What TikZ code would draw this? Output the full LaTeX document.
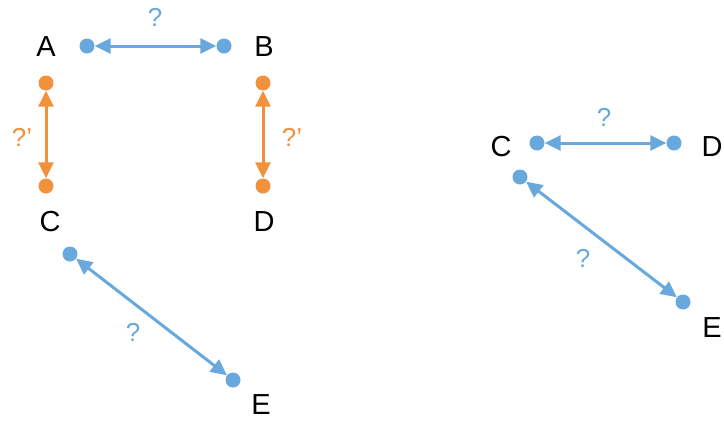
\documentclass[tikz,border=0pt]{standalone}
\usepackage{fontspec}
\setmainfont{Liberation Sans}
\usetikzlibrary{arrows.meta}
\definecolor{cblue}{RGB}{104,168,220}
\definecolor{corange}{RGB}{242,145,60}
\begin{document}
\begin{tikzpicture}[x=1pt,y=-1pt,
  dotb/.style={circle,fill=cblue,inner sep=0pt,minimum size=15pt},
  doto/.style={circle,fill=corange,inner sep=0pt,minimum size=15pt},
  lbl/.style={font=\fontsize{29}{31}\selectfont,inner sep=0pt},
  qb/.style={font=\fontsize{26}{28}\selectfont,text=cblue,inner sep=0pt},
  qo/.style={font=\fontsize{26}{28}\selectfont,text=corange,inner sep=0pt},
  tip/.style={Triangle[length=16pt,width=15pt]},
  conb/.style={draw=cblue,line width=3pt,{Triangle[length=16pt,width=15pt]}-{Triangle[length=16pt,width=15pt]}},
  cono/.style={draw=corange,line width=3pt,{Triangle[length=16pt,width=15pt]}-{Triangle[length=16pt,width=15pt]}}]
\useasboundingbox (0,0) rectangle (724,421);
% left group
\node[lbl] (lA) at (46,47) {A};
\node[lbl] (lB) at (264,47) {B};
\node[lbl] (lC) at (50,222) {C};
\node[lbl] (lD) at (264,222) {D};
\node[lbl] (lE) at (261,405) {E};
\node[dotb] (a) at (87,46) {};
\node[dotb] (b) at (224,46) {};
\node[doto] (a2) at (46,83) {};
\node[doto] (c2) at (46,186) {};
\node[doto] (b2) at (263,83) {};
\node[doto] (d2) at (263,186) {};
\node[dotb] (c) at (70,254) {};
\node[dotb] (e) at (233,380) {};
\draw[conb] (a) -- (b);
\draw[cono] (a2) -- (c2);
\draw[cono] (b2) -- (d2);
\draw[conb] (c) -- (e);
\node[qb] (q1) at (155,17) {?};
\node[qo] (q2) at (22,137) {?’};
\node[qo] (q3) at (292,137) {?’};
\node[qb] (q4) at (133,332) {?};
% right group
\node[lbl] (rC) at (501,147) {C};
\node[lbl] (rD) at (712,147) {D};
\node[lbl] (rE) at (712,328) {E};
\node[dotb] (rc) at (537,143) {};
\node[dotb] (rd) at (674,143) {};
\node[dotb] (rc2) at (520,177) {};
\node[dotb] (re) at (683,302) {};
\draw[conb] (rc) -- (rd);
\draw[conb] (rc2) -- (re);
\node[qb] (q5) at (604,117) {?};
\node[qb] (q6) at (583,258) {?};
\end{tikzpicture}
\end{document}
